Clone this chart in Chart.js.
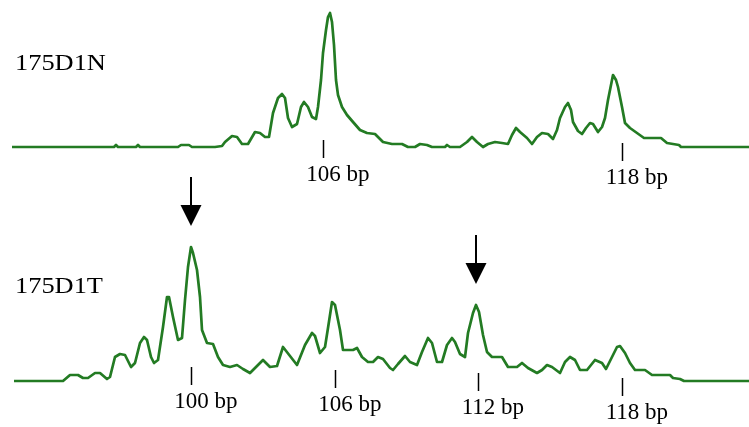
<!DOCTYPE html>
<html>
<head>
<meta charset="utf-8">
<script src="https://cdn.jsdelivr.net/npm/chart.js@4/dist/chart.umd.min.js"></script>
<style>
  html, body { margin: 0; padding: 0; background: #fff; }
  #wrap { width: 749px; height: 427px; }
</style>
</head>
<body>
<div id="wrap"><canvas id="trace" width="749" height="427"></canvas></div>
<script>
// Normal sample trace: scan position and signal height above baseline.
const normalScan = [12, 114, 116, 118, 136, 138, 140, 178, 181, 189, 192, 215, 222, 225, 232, 237, 242, 248, 255, 260,
  265, 269, 273, 278, 282, 285, 288, 292, 297, 301, 304, 308, 312, 316, 318, 321, 323, 326, 328, 330,
  332, 334, 336, 338, 342, 347, 353, 360, 367, 375, 383, 392, 402, 408, 415, 420, 427, 432, 445, 447,
  450, 460, 467, 472, 477, 483, 488, 495, 502, 508, 512, 516, 520, 527, 532, 537, 542, 548, 553, 557,
  560, 565, 568, 571, 573, 578, 582, 586, 590, 593, 598, 602, 605, 608, 612, 613, 616, 618, 622, 625,
  630, 637, 644, 661, 667, 679, 681, 749];
const normalSignal = [0, 0, 2, 0, 0, 2, 0, 0, 2, 2, 0, 0, 1, 5, 11, 10, 3, 3, 15, 14,
  10, 10, 34, 49, 53, 49, 29, 20, 23, 40, 45, 40, 30, 28, 40, 67, 94, 117, 130, 134,
  125, 102, 67, 52, 40, 32, 25, 17, 14, 13, 5, 3, 3, 0, 0, 3, 2, 0, 0, 2,
  0, 0, 5, 10, 5, 0, 3, 5, 4, 3, 12, 19, 15, 9, 3, 10, 14, 13, 8, 17,
  29, 40, 44, 37, 25, 16, 13, 19, 24, 23, 15, 20, 29, 47, 67, 72, 67, 60, 40, 24,
  19, 14, 9, 9, 4, 2, 0, 0];

// Tumour sample trace.
const tumorScan = [14, 63, 70, 78, 83, 88, 95, 100, 107, 110, 115, 120, 125, 131, 135, 140, 144, 147, 151, 154,
  158, 163, 167, 169, 173, 178, 182, 185, 188, 191, 193, 197, 200, 202, 207, 213, 218, 223, 230, 237,
  243, 250, 255, 263, 270, 277, 283, 290, 297, 305, 312, 315, 320, 325, 328, 332, 335, 340, 343, 353,
  357, 362, 368, 373, 378, 383, 390, 393, 398, 405, 410, 417, 422, 428, 432, 437, 442, 447, 452, 455,
  460, 465, 468, 473, 476, 479, 483, 487, 492, 502, 508, 517, 522, 528, 537, 542, 547, 552, 560, 565,
  570, 575, 580, 587, 595, 602, 606, 612, 617, 620, 625, 630, 635, 645, 652, 670, 673, 680, 684, 749];
const tumorSignal = [0, 0, 6, 6, 3, 3, 8, 8, 2, 4, 24, 27, 26, 14, 18, 38, 44, 41, 24, 18,
  21, 54, 84, 84, 64, 41, 43, 81, 114, 134, 128, 111, 84, 51, 38, 37, 24, 16, 14, 16,
  12, 8, 13, 21, 14, 15, 34, 25, 16, 36, 48, 45, 28, 34, 53, 79, 76, 51, 31, 31,
  33, 24, 19, 19, 24, 22, 13, 11, 17, 25, 19, 16, 29, 43, 38, 19, 19, 36, 43, 39,
  27, 24, 48, 68, 76, 69, 46, 29, 24, 24, 14, 14, 18, 13, 8, 11, 16, 14, 8, 19,
  24, 21, 11, 11, 21, 18, 12, 24, 34, 35, 28, 18, 11, 11, 6, 6, 3, 2, 0, 0];

// Size markers under each trace.
const normalMarkerScan = [323, 622];
const normalMarkerLabels = ['106 bp', '118 bp'];
const tumorMarkerScan = [191, 335, 478, 622];
const tumorMarkerLabels = ['100 bp', '106 bp', '112 bp', '118 bp'];

// Peaks flagged with an arrow in the tumour trace.
const tumorArrowScan = [191, 476];

const sampleNames = ['175D1N', '175D1T'];

// Layout only: how far each marker tick starts above its baseline (px).
const normalTickLift = [7, 4];
const tumorTickLift = [14, 11, 8, 3];

const traceColor = '#237b23';
const serif = '"Liberation Serif", "Times New Roman", serif';

function toPoints(xs, ys) {
  return xs.map((x, i) => ({ x: x, y: ys[i] }));
}

function drawMarkers(ctx, xScale, yScale, scans, labels, lifts) {
  const base = yScale.getPixelForValue(0);
  ctx.strokeStyle = '#000';
  ctx.fillStyle = '#000';
  ctx.lineWidth = 1.5;
  ctx.font = '23px ' + serif;
  ctx.textBaseline = 'alphabetic';
  ctx.textAlign = 'left';
  scans.forEach((s, i) => {
    const px = Math.round(xScale.getPixelForValue(s)) + 0.5;
    const top = base - lifts[i];
    const bottom = top + 18;
    ctx.beginPath();
    ctx.moveTo(px, top);
    ctx.lineTo(px, bottom);
    ctx.stroke();
    // centre the number part of the label under the tick
    const num = labels[i].split(' ')[0];
    const w = ctx.measureText(num).width;
    ctx.fillText(labels[i], px - w / 2, bottom + 23);
  });
}

function drawArrows(ctx, xScale, yScale, scans) {
  ctx.fillStyle = '#000';
  ctx.strokeStyle = '#000';
  ctx.lineWidth = 2;
  scans.forEach((s) => {
    // find the trace point closest to the arrow
    let idx = 0;
    tumorScan.forEach((t, i) => {
      if (Math.abs(t - s) < Math.abs(tumorScan[idx] - s)) idx = i;
    });
    const px = xScale.getPixelForValue(s);
    const tip = yScale.getPixelForValue(tumorSignal[idx]) - 21;
    ctx.beginPath();
    ctx.moveTo(px, tip - 49);
    ctx.lineTo(px, tip - 20);
    ctx.stroke();
    ctx.beginPath();
    ctx.moveTo(px - 10.5, tip - 21);
    ctx.lineTo(px + 10.5, tip - 21);
    ctx.lineTo(px, tip);
    ctx.closePath();
    ctx.fill();
  });
}

const annotate = {
  id: 'annotate',
  afterDatasetsDraw(chart) {
    const ctx = chart.ctx;
    const x = chart.scales.x;
    ctx.save();
    drawMarkers(ctx, x, chart.scales.yN, normalMarkerScan, normalMarkerLabels, normalTickLift);
    drawMarkers(ctx, x, chart.scales.yT, tumorMarkerScan, tumorMarkerLabels, tumorTickLift);
    drawArrows(ctx, x, chart.scales.yT, tumorArrowScan);

    // sample names, drawn a little wide like the original
    ctx.fillStyle = '#000';
    ctx.font = '24px ' + serif;
    const nameY = [70, 293];
    sampleNames.forEach((name, i) => {
      ctx.save();
      ctx.translate(15, nameY[i]);
      ctx.scale(1.1, 1);
      ctx.fillText(name, 0, 0);
      ctx.restore();
    });
    ctx.restore();
  }
};

const config = {
  type: 'line',
  data: {
    datasets: [
      {
        label: sampleNames[0],
        data: toPoints(normalScan, normalSignal),
        yAxisID: 'yN',
        borderColor: traceColor,
        borderWidth: 2.7,
        borderJoinStyle: 'round',
        pointRadius: 0,
        tension: 0,
        clip: false,
      },
      {
        label: sampleNames[1],
        data: toPoints(tumorScan, tumorSignal),
        yAxisID: 'yT',
        borderColor: traceColor,
        borderWidth: 2.7,
        borderJoinStyle: 'round',
        pointRadius: 0,
        tension: 0,
        clip: false,
      },
    ],
  },
  options: {
    responsive: false,
    animation: false,
    devicePixelRatio: 1,
    layout: { padding: 0 },
    plugins: { legend: { display: false }, tooltip: { enabled: false } },
    scales: {
      x: { type: 'linear', min: 0, max: 749, display: false },
      // each trace gets its own axis; 1 unit = 1 px, baselines at 147 and 381
      yN: { type: 'linear', min: -280, max: 147, display: false },
      yT: { type: 'linear', min: -46, max: 381, display: false },
    },
  },
  plugins: [annotate],
};

new Chart(document.getElementById('trace'), config);
</script>
</body>
</html>
